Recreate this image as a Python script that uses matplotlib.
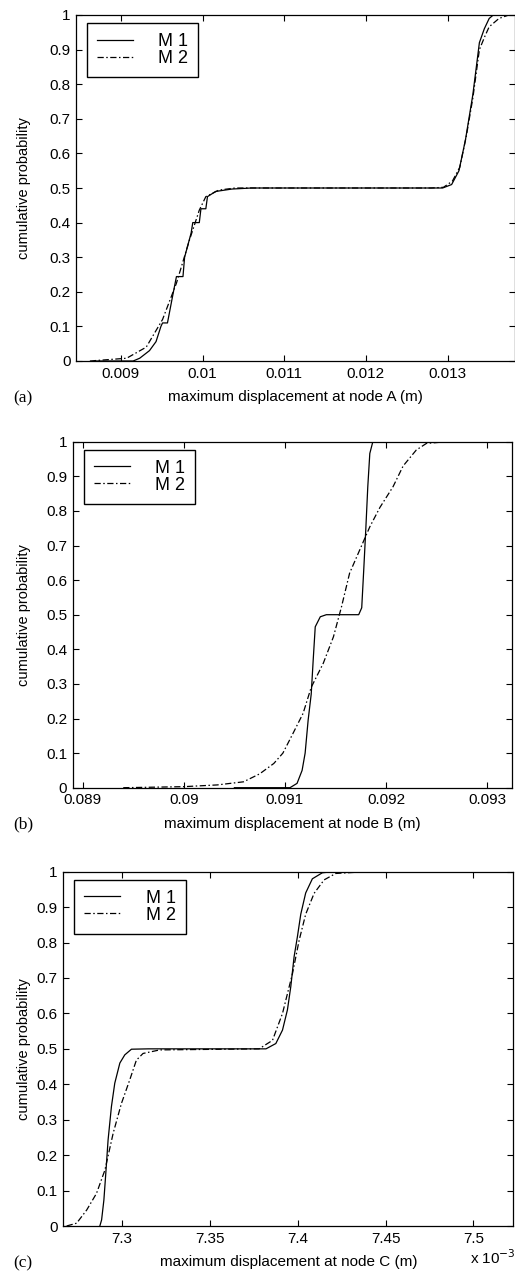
import numpy as np
import matplotlib
matplotlib.use('Agg')
import matplotlib.pyplot as plt
from matplotlib.ticker import FuncFormatter

plt.rcParams['font.family'] = ['Liberation Sans', 'DejaVu Sans']

# node A
a_m1_x = [0.00870, 0.00915, 0.00923, 0.00935, 0.00943, 0.00949, 0.00951, 0.00957, 0.00964,
          0.00968, 0.00976, 0.00978, 0.00986, 0.00988, 0.00996, 0.00998, 0.01004, 0.01006,
          0.01016, 0.01036, 0.0106, 0.0128, 0.01294, 0.01305, 0.01314, 0.01322, 0.01331,
          0.01339, 0.01345, 0.01351, 0.01356, 0.0138]
a_m1_y = [0, 0, 0.008, 0.03, 0.056, 0.10, 0.11, 0.11, 0.196,
          0.244, 0.244, 0.30, 0.37, 0.40, 0.40, 0.44, 0.44, 0.475,
          0.49, 0.497, 0.5, 0.5, 0.5, 0.51, 0.55, 0.64, 0.77,
          0.92, 0.96, 0.99, 1.0, 1.0]
a_m2_x = [0.00862, 0.00907, 0.00931, 0.00951, 0.00968, 0.00984, 0.00996, 0.01004, 0.0102,
          0.0104, 0.0128, 0.01295, 0.01306, 0.01315, 0.01323, 0.01331, 0.01339, 0.01346,
          0.01351, 0.01363, 0.01375, 0.0138]
a_m2_y = [0, 0.008, 0.04, 0.12, 0.225, 0.35, 0.436, 0.475, 0.494,
          0.5, 0.5, 0.502, 0.52, 0.56, 0.65, 0.76, 0.90, 0.94,
          0.966, 0.99, 1.0, 1.0]

# node B
b_m1_x = [0.0905, 0.09105, 0.09112, 0.09117, 0.0912, 0.09123, 0.09126, 0.09128, 0.0913,
          0.09135, 0.09141, 0.09173, 0.09176, 0.09178, 0.0918, 0.09182, 0.09184, 0.09187, 0.0925]
b_m1_y = [0, 0, 0.0125, 0.05, 0.10, 0.196, 0.27, 0.37, 0.465,
          0.494, 0.5, 0.5, 0.52, 0.63, 0.745, 0.87, 0.966, 1.0, 1.0]
b_m2_x = [0.0894, 0.0900, 0.09033, 0.09059, 0.09075, 0.09089, 0.09098, 0.09108, 0.09118,
          0.09126, 0.09138, 0.09148, 0.09156, 0.09164, 0.09174, 0.09184, 0.09194, 0.09207,
          0.09217, 0.0923, 0.0924, 0.0926, 0.0929]
b_m2_y = [0, 0.003, 0.008, 0.017, 0.04, 0.07, 0.10, 0.157, 0.215,
          0.29, 0.36, 0.436, 0.523, 0.62, 0.687, 0.754, 0.81, 0.87,
          0.93, 0.976, 0.995, 1.0, 1.0]

# node C (x 10^-3 m)
c_m1_x = [7.2873, 7.2883, 7.2896, 7.2907, 7.292, 7.2939, 7.2958, 7.2987, 7.3015, 7.3053,
          7.315, 7.3819, 7.3875, 7.3913, 7.3941, 7.396, 7.3979, 7.3998, 7.4017, 7.4045,
          7.4083, 7.414, 7.42, 7.45]
c_m1_y = [0, 0.017, 0.073, 0.149, 0.243, 0.337, 0.403, 0.46, 0.483, 0.499,
          0.5, 0.5, 0.515, 0.553, 0.61, 0.675, 0.76, 0.817, 0.88, 0.94,
          0.98, 0.997, 1.0, 1.0]
c_m2_x = [7.2684, 7.2741, 7.2798, 7.2854, 7.2902, 7.2949, 7.2996, 7.3043, 7.3081, 7.3119,
          7.3214, 7.378, 7.3856, 7.3913, 7.397, 7.4008, 7.4045, 7.4093, 7.415, 7.4216,
          7.4386, 7.4688]
c_m2_y = [0, 0.008, 0.045, 0.092, 0.158, 0.262, 0.346, 0.412, 0.468, 0.487,
          0.497, 0.5, 0.524, 0.6, 0.713, 0.807, 0.88, 0.939, 0.977, 0.995,
          1.0, 1.0]

a_ticks = [0.009, 0.010, 0.011, 0.012, 0.013]
b_ticks = [0.089, 0.090, 0.091, 0.092, 0.093]
c_ticks = [7.30, 7.35, 7.40, 7.45, 7.50]

W, H = 515, 1277
fig = plt.figure(figsize=(W / 100, H / 100), dpi=100)

def px_axes(l, t, r, b):
    return fig.add_axes([l / W, 1 - b / H, (r - l) / W, (b - t) / H])

panels = [
    dict(box=(76, 15, 514.5, 361), xlim=(0.00845, 0.01382), ticks=a_ticks,
         d=(a_m1_x, a_m1_y, a_m2_x, a_m2_y), tag='(a)', node='A'),
    dict(box=(72.7, 441.7, 512.3, 787.7), xlim=(0.08890, 0.09325), ticks=b_ticks,
         d=(b_m1_x, b_m1_y, b_m2_x, b_m2_y), tag='(b)', node='B'),
    dict(box=(63.3, 871.7, 513.3, 1226), xlim=(7.2665, 7.5227), ticks=c_ticks,
         d=(c_m1_x, c_m1_y, c_m2_x, c_m2_y), tag='(c)', node='C'),
]

for p in panels:
    l, t, r, b = p['box']
    ax = px_axes(l, t, r, b)
    m1x, m1y, m2x, m2y = p['d']
    ax.plot(m1x, m1y, color='black', lw=0.9, label='M 1')
    ax.plot(m2x, m2y, color='black', lw=0.9, linestyle=(0, (5, 2, 1.2, 2)), label='M 2')
    ax.set_xlim(*p['xlim'])
    ax.set_ylim(0, 1)
    ax.set_xticks(p['ticks'])
    ax.set_yticks(np.arange(0, 1.01, 0.1))
    ax.xaxis.set_major_formatter(FuncFormatter(lambda v, pos: '%g' % round(v, 6)))
    ax.yaxis.set_major_formatter(FuncFormatter(lambda v, pos: '%g' % round(v, 2)))
    ax.tick_params(direction='in', top=True, right=True, length=4, width=0.8,
                   labelsize=11, pad=4)
    for s in ax.spines.values():
        s.set_linewidth(0.9)
    ax.set_ylabel('cumulative probability', fontsize=10.5)
    ax.set_xlabel('maximum displacement at node %s (m)' % p['node'], fontsize=11)
    ax.yaxis.set_label_coords((31 - l) / (r - l), 0.5)
    ax.xaxis.set_label_coords(0.5, -29 / (b - t))
    leg = ax.legend(loc='upper left', bbox_to_anchor=(11 / (r - l), 1 - 8 / (b - t)),
                    borderaxespad=0, fontsize=13, handlelength=2.0, handletextpad=1.4,
                    borderpad=0.55, labelspacing=0.0, fancybox=False, framealpha=1,
                    edgecolor='black')
    leg.get_frame().set_linewidth(1.0)
    fig.text(13 / W, 1 - (b + 37) / H, p['tag'], family='Liberation Serif', fontsize=12.5,
             ha='left', va='center')

fig.text(470 / W, 1 - 1258 / H, r'x 10$^{-3}$', fontsize=11, ha='left', va='center')

plt.savefig('out.png', dpi=100)
